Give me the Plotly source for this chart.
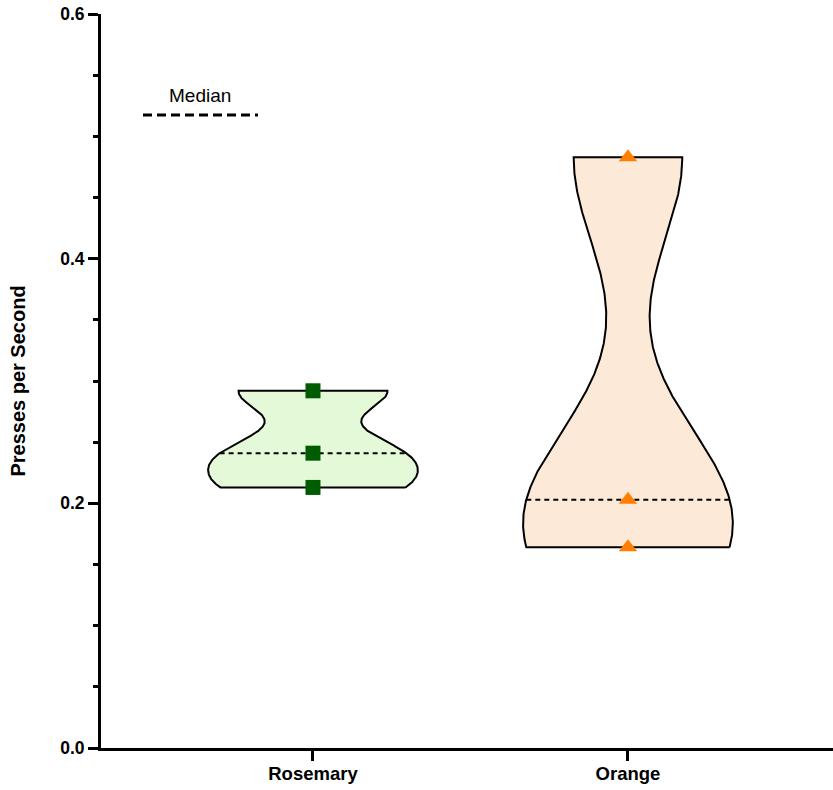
import numpy as np
import plotly.graph_objects as go

# Data
categories = ["Rosemary", "Orange"]
rosemary = [0.292, 0.241, 0.213]
orange = [0.483, 0.203, 0.164]
series = [rosemary, orange]
y_ticks = [0.0, 0.2, 0.4, 0.6]

# Styling per group
bandwidths = [0.017, 0.075]
fill_colors = ["#e4f9d8", "#fde9d7"]
marker_colors = ["#005c00", "#ff8000"]
marker_symbols = ["square", "triangle-up"]
marker_sizes = [15, 16]
half_width = 0.333  # max half-width of each violin in x units


def kde(values, grid, bw):
    v = np.asarray(values)[None, :]
    g = np.asarray(grid)[:, None]
    return np.exp(-((g - v) ** 2) / (2 * bw * bw)).sum(axis=1)


fig = go.Figure()

for i, (name, vals) in enumerate(zip(categories, series)):
    lo, hi = min(vals), max(vals)
    grid = np.linspace(lo, hi, 300)
    dens = kde(vals, grid, bandwidths[i])
    peak = dens.max()
    w = dens / peak * half_width
    xs = np.concatenate([i + w, (i - w)[::-1], [i + w[0]]])
    ys = np.concatenate([grid, grid[::-1], [grid[0]]])
    fig.add_trace(go.Scatter(
        x=xs, y=ys, mode="lines", fill="toself",
        fillcolor=fill_colors[i],
        line=dict(color="black", width=2),
        hoverinfo="skip", showlegend=False,
    ))
    med = float(np.median(vals))
    mw = kde(vals, [med], bandwidths[i])[0] / peak * half_width
    fig.add_trace(go.Scatter(
        x=[i - mw, i + mw], y=[med, med], mode="lines",
        line=dict(color="black", width=2, dash="5px,4px"),
        hoverinfo="skip", showlegend=False,
    ))
    fig.add_trace(go.Scatter(
        x=[i] * len(vals), y=vals, mode="markers",
        marker=dict(symbol=marker_symbols[i], size=marker_sizes[i],
                    color=marker_colors[i], line=dict(width=0)),
        showlegend=False, cliponaxis=False,
    ))

# Median key
fig.add_shape(type="line", xref="paper", yref="paper",
              x0=(143 - 101) / 732, x1=(258 - 101) / 732,
              y0=(748 - 115) / 734, y1=(748 - 115) / 734,
              line=dict(color="black", width=3, dash="9px,5px"))
fig.add_annotation(text="Median", xref="paper", yref="paper",
                   x=(200 - 101) / 732, y=(748 - 96) / 734,
                   xanchor="center", yanchor="middle",
                   showarrow=False, font=dict(size=19, color="black"))

font_family = "Arial, Liberation Sans, sans-serif"

fig.update_layout(
    width=833, height=790,
    margin=dict(l=101, r=0, t=14, b=42),
    plot_bgcolor="white", paper_bgcolor="white",
    font=dict(family=font_family, color="black", size=14),
    xaxis=dict(
        range=[-0.673, 1.651], showgrid=False, zeroline=False,
        tickvals=[0, 1], ticktext=[f"<b>{c}</b>" for c in categories],
        ticks="outside", ticklen=10, tickwidth=3, tickcolor="black",
        showline=True, linewidth=3, linecolor="black",
        tickfont=dict(size=18.5), ticklabelstandoff=-3,
    ),
    yaxis=dict(
        range=[0, 0.6], showgrid=False, zeroline=False,
        tickvals=y_ticks,
        ticktext=[f"<b>{t:.1f}</b>" for t in y_ticks],
        ticks="outside", ticklen=10, tickwidth=3, tickcolor="black",
        showline=True, linewidth=3, linecolor="black",
        tickfont=dict(size=17.5),
        minor=dict(dtick=0.05, ticks="outside", ticklen=5, tickwidth=3,
                   tickcolor="black", showgrid=False),
        title=dict(text="<b>Presses per Second</b>", font=dict(size=20),
                   standoff=30),
    ),
)

fig.write_html("out.html")
